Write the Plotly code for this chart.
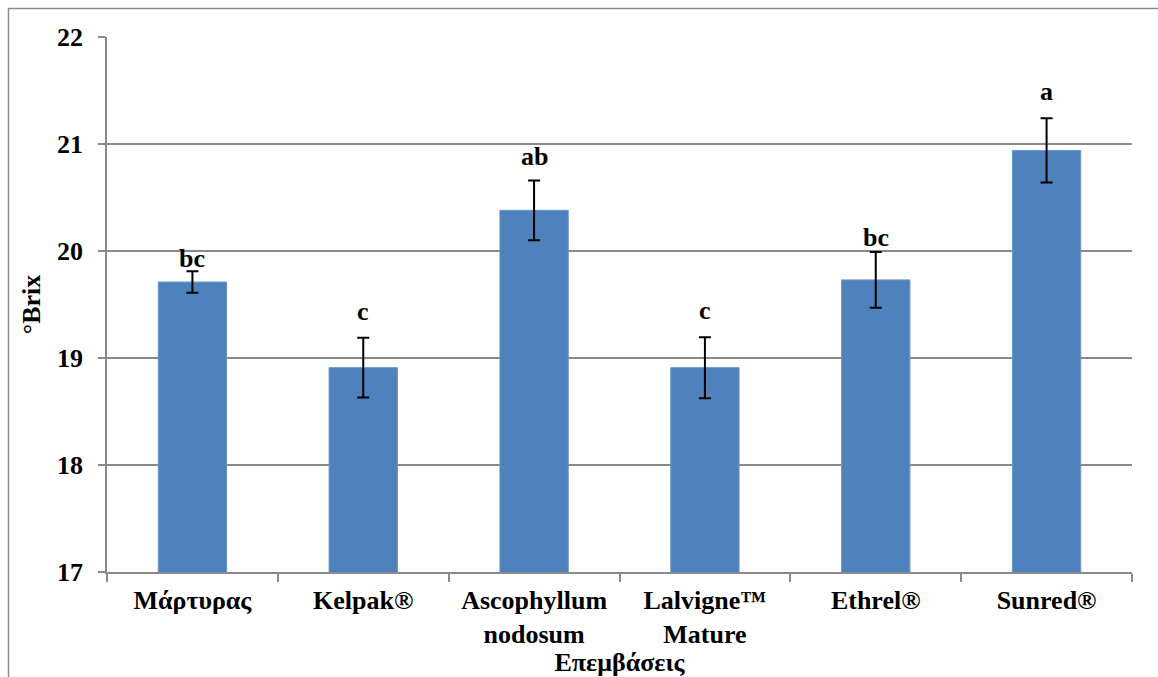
import plotly.graph_objects as go

categories = ["Μάρτυρας", "Kelpak®", "Ascophyllum<br>nodosum", "Lalvigne™<br>Mature", "Ethrel®", "Sunred®"]
brix = [19.71, 18.91, 20.38, 18.91, 19.73, 20.94]
brix_err = [0.10, 0.28, 0.28, 0.285, 0.26, 0.30]
letters = ["bc", "c", "ab", "c", "bc", "a"]
y_ticks = [17, 18, 19, 20, 21, 22]

FONT = "Liberation Serif"
GRID = "#8a8a8a"
# pixel offsets of the significance letters above the error bars
letter_shift = [-4, 10, 7, 10, -2, 10]

fig = go.Figure()
fig.add_trace(go.Bar(
    x=categories, y=brix,
    marker=dict(color="#4F81BD", line=dict(color="#6a96cc", width=1)),
    width=0.4,
    error_y=dict(type="data", array=brix_err, visible=True, color="black", thickness=2, width=6),
    showlegend=False,
))

for c, v, e, t, s in zip(categories, brix, brix_err, letters, letter_shift):
    fig.add_annotation(x=c, y=v + e, text=f"<b>{t}</b>", showarrow=False,
                       yanchor="bottom", yshift=s,
                       font=dict(family=FONT, size=26, color="black"))

# outer chart border (partially visible)
fig.add_shape(type="rect", xref="paper", yref="paper",
              x0=-0.0961, x1=1.2, y0=-0.4, y1=1.0533,
              line=dict(color="#8c8c8c", width=1.5), fillcolor="rgba(0,0,0,0)", layer="below")

fig.update_layout(
    width=1158, height=677,
    margin=dict(l=107, r=26, t=37, b=105),
    paper_bgcolor="white", plot_bgcolor="white",
    font=dict(family=FONT, size=26, color="black"),
    bargap=0.6,
)
fig.update_yaxes(
    range=[17, 22], tickvals=y_ticks, showgrid=True, gridcolor=GRID, gridwidth=1.5,
    showline=True, linecolor=GRID, linewidth=1.5, automargin=False,
    ticks="outside", ticklen=7, tickcolor=GRID, tickwidth=1.5,
    tickfont=dict(family=FONT, size=26, color="black", weight="bold"),
    ticklabelstandoff=10,
    title=dict(text="<b>°Brix</b>", font=dict(family=FONT, size=26), standoff=9),
    zeroline=False,
)
fig.update_xaxes(
    showline=True, linecolor=GRID, linewidth=1.5, automargin=False,
    ticks="outside", ticklen=8, tickcolor=GRID, tickwidth=1.5, tickson="boundaries",
    tickfont=dict(family=FONT, size=26, color="black", weight="bold"),
    ticklabelstandoff=4,
    title=dict(text="<b>Επεμβάσεις</b>", font=dict(family=FONT, size=26), standoff=2),
)

fig.write_html("out.html", config={"displayModeBar": False},
               post_script="document.body.style.margin='0';document.body.style.overflow='hidden';")
